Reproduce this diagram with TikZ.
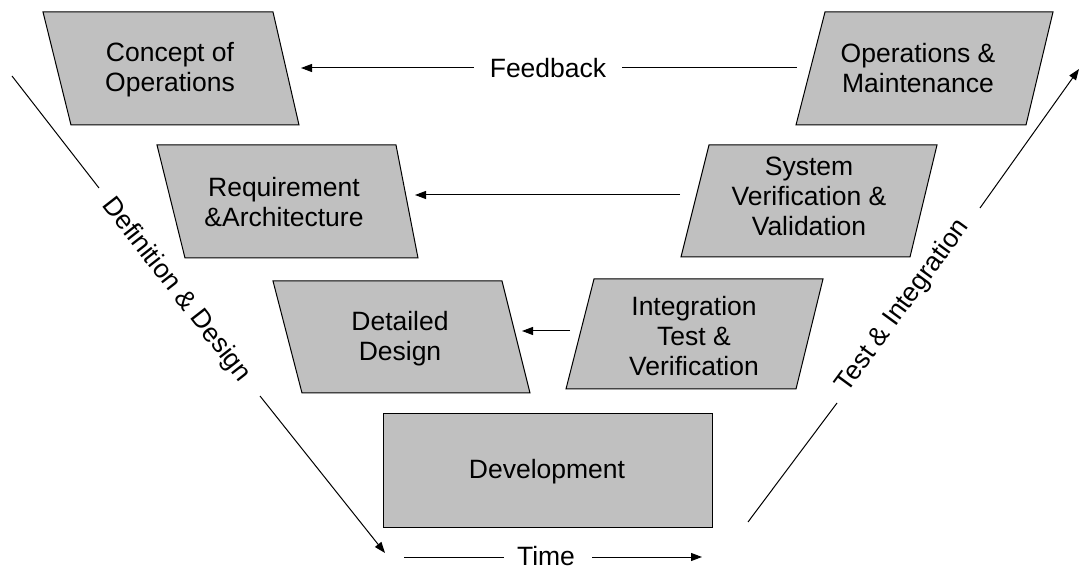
\documentclass[tikz,border=0pt]{standalone}
\usepackage{fontspec}
\setmainfont{Liberation Sans}
\usetikzlibrary{arrows.meta}
\definecolor{boxgray}{RGB}{192,192,192}
\begin{document}
\begin{tikzpicture}[x=1pt,y=-1pt,
  box/.style={draw=black, fill=boxgray, line width=1pt, line join=miter},
  lbl/.style={font=\fontsize{26.5}{30}\selectfont, align=center, inner sep=0pt},
  ln/.style={line width=1pt},
  arr/.style={line width=1pt, -{Triangle[length=11pt,width=8pt]}}]
\useasboundingbox (0,0) rectangle (1080,569);
\fill[white] (0,0) rectangle (1080,569);

% shapes
\draw[box] (43,12) -- (273,12) -- (299,125) -- (71,125) -- cycle;
\draw[box] (825,12) -- (1053,12) -- (1026,125) -- (796,125) -- cycle;
\draw[box] (157,145) -- (396,145) -- (418,258) -- (185,258) -- cycle;
\draw[box] (709,145) -- (937,145) -- (910,257) -- (681,257) -- cycle;
\draw[box] (273,281) -- (502,281) -- (530,393) -- (302,393) -- cycle;
\draw[box] (594,279) -- (823,279) -- (796,389) -- (566,389) -- cycle;
\draw[box] (383,414) rectangle (712,527);

% labels
\node[lbl] (cop) at (170,70) {Concept of\\Operations};
\node[lbl] (opm) at (918,68) {Operations \&\\Maintenance};
\node[lbl] (req) at (284,202) {Requirement\\\&Architecture};
\node[lbl] (svv) at (809,196) {System\\Verification \&\\Validation};
\node[lbl] (dd) at (400,339) {Detailed\\Design};
\node[lbl] (itv) at (694,336) {Integration\\Test \&\\Verification};
\node[lbl] (dev) at (547,472) {Development};

% connector end points
\coordinate (copR) at (301,68);
\coordinate (opmL) at (797,68);
\coordinate (reqR) at (415,195);
\coordinate (svvL) at (680,195);
\coordinate (ddR) at (522,331);
\coordinate (itvL) at (570,331);

% feedback
\node[lbl] (fb) at (548,68) {Feedback};
\draw[arr, shorten <=16pt] (fb.west) -- (copR);
\draw[ln, shorten <=16pt] (fb.east) -- (opmL);

% horizontal arrows
\draw[arr] (svvL) -- (reqR);
\draw[arr] (itvL) -- (ddR);

% time
\node[lbl] (time) at (546,556) {Time};
\coordinate (tA) at (404,557);
\coordinate (tB) at (504,557);
\coordinate (tC) at (592,557);
\coordinate (tD) at (702,557);
\draw[ln] (tA) -- (tB);
\draw[arr] (tC) -- (tD);

% definition & design
\coordinate (d1) at (12,76);
\coordinate (d2) at (99,188);
\coordinate (d3) at (260,396);
\coordinate (d4) at (385,553);
\node[lbl, rotate=-52] (defd) at (176,290) {Definition \& Design};
\draw[ln] (d1) -- (d2);
\draw[arr] (d3) -- (d4);

% test & integration
\coordinate (e1) at (748,522);
\coordinate (e2) at (837,403);
\coordinate (e3) at (980,208);
\coordinate (e4) at (1079,69);
\node[lbl, rotate=53.8] (tint) at (903,306) {Test \& Integration};
\draw[ln] (e1) -- (e2);
\draw[arr] (e3) -- (e4);
\end{tikzpicture}
\end{document}
